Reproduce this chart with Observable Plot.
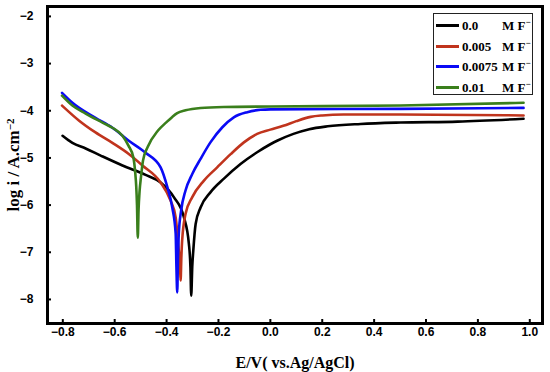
<!DOCTYPE html>
<html><head><meta charset="utf-8">
<script src="https://cdn.jsdelivr.net/npm/d3@7"></script>
<script src="https://cdn.jsdelivr.net/npm/@observablehq/plot@0.6"></script>
<style>
body{margin:0;background:#fff;}
#chart{position:relative;width:550px;height:372px;overflow:hidden;}
#legend{position:absolute;left:433px;top:13px;width:100px;height:82px;border:1px solid #222;box-sizing:border-box;background:#fff;font:bold 13px "Liberation Serif","Times New Roman",serif;color:#000;}
.row{position:absolute;left:0;width:100px;height:16px;}
.sw{position:absolute;left:2px;top:6px;width:23px;height:3px;}
.lab{position:absolute;left:28px;top:0;line-height:16px;}
.unit{position:absolute;left:68px;top:0;line-height:16px;}
.unit sup{font-size:9px;vertical-align:5px;line-height:0;}
</style>
</head><body>
<div id="chart"><div id="legend"></div></div>
<script>
// Series names and colours
const concLabels = ["0.0", "0.005", "0.0075", "0.01"];
const colors = ["#000000", "#c0341d", "#0a0af5", "#3a7f1c"];

// 0.0 M F-
const E0 = [-0.801,-0.763,-0.712,-0.654,-0.57,-0.481,-0.423,-0.372,-0.333,-0.314,-0.308,-0.305,-0.301,-0.297,-0.288,-0.269,-0.231,-0.179,-0.115,-0.051,0.0,0.028,0.089,0.15,0.221,0.348,0.502,0.722,0.976];
const L0 = [-4.53,-4.68,-4.80,-4.95,-5.16,-5.36,-5.52,-5.83,-6.26,-6.82,-7.32,-7.92,-7.3,-6.96,-6.40,-6.05,-5.73,-5.44,-5.13,-4.88,-4.71,-4.63,-4.49,-4.39,-4.33,-4.28,-4.25,-4.23,-4.17];

// 0.005 M F-
const E1 = [-0.803,-0.737,-0.674,-0.609,-0.547,-0.493,-0.423,-0.385,-0.365,-0.353,-0.348,-0.346,-0.343,-0.34,-0.327,-0.301,-0.256,-0.205,-0.153,-0.102,-0.051,0.0,0.05,0.1,0.155,0.2,0.282,0.502,0.976];
const L1 = [-3.89,-4.21,-4.46,-4.68,-4.91,-5.16,-5.52,-5.9,-6.26,-6.96,-7.3,-7.6,-7.1,-6.75,-6.19,-5.83,-5.48,-5.2,-4.92,-4.67,-4.49,-4.40,-4.32,-4.22,-4.13,-4.10,-4.08,-4.08,-4.10];

// 0.0075 M F-
const E2 = [-0.803,-0.763,-0.674,-0.609,-0.547,-0.481,-0.423,-0.397,-0.378,-0.365,-0.362,-0.359,-0.356,-0.353,-0.344,-0.327,-0.301,-0.269,-0.231,-0.185,-0.141,-0.089,-0.038,0.0,0.502,0.976];
const L2 = [-3.62,-3.83,-4.15,-4.36,-4.63,-4.89,-5.2,-5.62,-6.05,-6.6,-7.32,-7.85,-7.1,-6.61,-6.12,-5.69,-5.34,-5.02,-4.67,-4.35,-4.14,-4.03,-3.98,-3.97,-3.96,-3.94];

// 0.01 M F-
const E3 = [-0.803,-0.763,-0.712,-0.647,-0.609,-0.570,-0.547,-0.528,-0.521,-0.517,-0.514,-0.511,-0.508,-0.504,-0.499,-0.491,-0.472,-0.433,-0.400,-0.378,-0.359,-0.327,-0.269,-0.180,0.0,0.502,0.976];
const L3 = [-3.68,-3.89,-4.06,-4.25,-4.36,-4.53,-4.74,-4.99,-5.3,-5.6,-6.0,-6.69,-6.1,-5.7,-5.42,-5.06,-4.76,-4.42,-4.24,-4.13,-4.05,-3.99,-3.94,-3.92,-3.91,-3.89,-3.83];

// Axis ticks and texts
const xTicks = [-0.8,-0.6,-0.4,-0.2,0.0,0.2,0.4,0.6,0.8,1.0];
const yTicks = [-2,-3,-4,-5,-6,-7,-8];
const xLabel = "E/V( vs.Ag/AgCl)";
const yLabel = "log i / A.cm";
const ySup = "\u22122";
const unitLabel = "M F";

const Es = [E0, E1, E2, E3];
const Ls = [L0, L1, L2, L3];
const data = Es.flatMap((E, i) => E.map((e, j) => ({conc: concLabels[i], E: e, logi: Ls[i][j]})));

const plot = Plot.plot({
  width: 550, height: 372,
  marginLeft: 47, marginRight: 8, marginTop: 6, marginBottom: 49,
  x: {domain: [-0.859, 1.049]},
  y: {domain: [-8.51, -1.79]},
  color: {domain: concLabels, range: colors},
  style: {fontFamily: "'Liberation Sans', Arial, sans-serif", fontWeight: "bold", fontSize: "12px", color: "#000", background: "#fff"},
  marks: [
    Plot.line(data, {x: "E", y: "logi", z: "conc", stroke: "conc", strokeWidth: 2.6, curve: "monotone-x"}),
    Plot.axisX(xTicks, {tickSize: -4, tickPadding: 8, strokeWidth: 2, tickFormat: d3.format(".1f"), label: xLabel, labelArrow: "none", labelAnchor: "center", labelOffset: 44}),
    Plot.axisY(yTicks, {tickSize: -4, tickPadding: 18, strokeWidth: 2, tickFormat: d3.format("d"), label: yLabel, labelArrow: "none", labelAnchor: "center", labelOffset: 41}),
    Plot.frame({strokeWidth: 3})
  ]
});
document.getElementById("chart").prepend(plot);

const svg = d3.select(plot);
svg.selectAll('g[aria-label="x-axis label"] text')
  .style("font-family", "'Liberation Serif','Times New Roman',serif")
  .style("font-size", "16px").style("font-weight", "bold");
svg.selectAll('g[aria-label="y-axis label"] text').each(function() {
  const t = d3.select(this);
  t.style("font-family", "'Liberation Serif','Times New Roman',serif")
   .style("font-size", "17px").style("font-weight", "bold");
  t.text(yLabel);
  t.append("tspan").attr("dy", "-0.45em").style("font-size", "11px").text(ySup);
});

const legend = d3.select("#legend");
concLabels.forEach((c, i) => {
  const row = legend.append("div").attr("class", "row").style("top", (4 + i * 20.7) + "px");
  row.append("div").attr("class", "sw").style("background", colors[i]);
  row.append("span").attr("class", "lab").text(c);
  const u = row.append("span").attr("class", "unit");
  u.append("span").text(unitLabel);
  u.append("sup").text("\u2212");
});
</script>
</body></html>
